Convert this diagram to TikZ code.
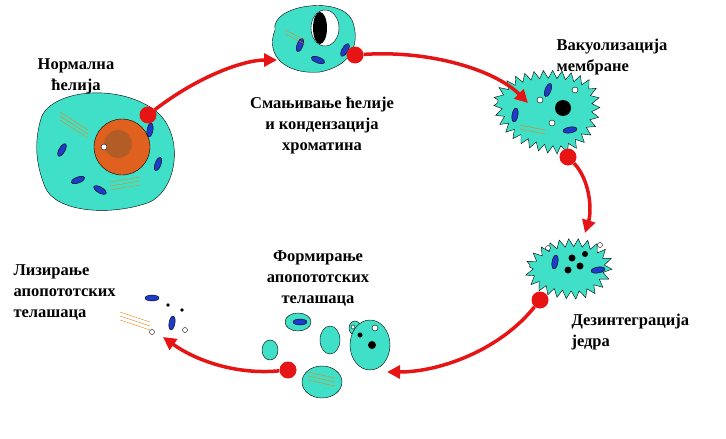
\documentclass[tikz,border=0pt]{standalone}
\usepackage{fontspec}
\setmainfont{Liberation Serif}
\usetikzlibrary{arrows.meta,shapes.geometric,decorations.pathmorphing}
\definecolor{cellc}{RGB}{64,224,200}
\definecolor{nuc}{RGB}{224,96,32}
\definecolor{mito}{RGB}{30,60,200}
\definecolor{arr}{RGB}{230,20,20}
\tikzset{
 lbl/.style={font=\bfseries\fontsize{16.5}{21}\selectfont, align=center},
 cellbody/.style={fill=cellc, draw=black, thin},
 spiky/.style={fill=cellc, draw=black, thin, decorate, decoration={zigzag, segment length=9pt, amplitude=4pt}},
 mt/.style={fill=mito, draw=black, ellipse, minimum width=14pt, minimum height=6pt, inner sep=0pt},
 er/.style={draw=orange!80!brown, thin},
 redarrow/.style={draw=arr, line width=3.5pt, -{Triangle[length=13pt,width=13pt]}},
 dot/.style={circle, fill=arr, minimum size=17pt, inner sep=0pt},
}
\begin{document}
\begin{tikzpicture}[x=1pt,y=-1pt]
\useasboundingbox (0,0) rectangle (726,439);
% cell 1
\begin{scope}[yshift=-12pt]
\draw[cellbody] (40,110) .. controls (45,80) and (110,70) .. (150,95) .. controls (185,115) and (180,175) .. (150,190) .. controls (110,205) and (55,200) .. (45,175) .. controls (35,150) and (35,130) .. (40,110) -- cycle;
\fill[nuc, draw=black] (122,135) circle (28);
\fill[brown!70!black, opacity=0.5] (118,132) circle (14);
\draw[fill=white] (104,135) circle (3);
\node[mt, rotate=60] at (62,138) {};
\node[mt, rotate=-30] at (100,178) {};
\node[mt, rotate=70] at (158,152) {};
\node[mt, rotate=20] at (78,168) {};
\node[mt, rotate=80] at (150,118) {};
\foreach \i in {0,4,8} {\draw[er] (60,{100+\i}) -- (88,{118+\i}); \draw[er] (110,{170+\i}) -- (140,{165+\i});}
\end{scope}
% cell 2
\draw[cellbody] (275,30) .. controls (270,5) and (340,-5) .. (352,20) .. controls (360,40) and (355,65) .. (320,72) .. controls (285,75) and (265,55) .. (275,30) -- cycle;
\fill[white, draw=black] (325,28) ellipse (14 and 18);
\fill[black] (320,28) ellipse (7 and 16);
\node[mt, rotate=70] at (300,45) {};
\node[mt, rotate=-20] at (318,60) {};
\node[mt, rotate=60] at (345,50) {};
\foreach \i in {0,4} {\draw[er] (285,{30+\i}) -- (305,{40+\i});}
% cell 3
\draw[spiky] (498,100) .. controls (500,75) and (560,65) .. (590,85) .. controls (605,110) and (590,145) .. (560,150) .. controls (530,150) and (495,130) .. (498,100) -- cycle;
\fill[black] (563,108) circle (8);
\draw[fill=white] (540,100) circle (3); \draw[fill=white] (575,90) circle (3); \draw[fill=white] (552,123) circle (3);
\node[mt, rotate=70] at (548,90) {};
\node[mt, rotate=10] at (570,130) {};
\node[mt, rotate=80] at (515,115) {};
\foreach \i in {0,4} {\draw[er] (520,{125+\i}) -- (545,{130+\i});}
% cell 4
\draw[spiky] (530,265) .. controls (540,240) and (590,235) .. (605,255) .. controls (615,270) and (600,295) .. (575,295) .. controls (550,295) and (525,285) .. (530,265) -- cycle;
\fill[black] (572,258) circle (3.5); \fill[black] (580,266) circle (3.5); \fill[black] (568,270) circle (3.5); \fill[black] (585,254) circle (3);
\node[mt, rotate=80] at (555,262) {};
\node[mt, rotate=10] at (598,270) {};
\draw[fill=white] (548,248) circle (2.5); \draw[fill=white] (600,245) circle (2.5);
% cell 5 fragments
\draw[cellbody] (298,322) ellipse (13 and 9);
\node[mt] at (300,322) {};
\draw[cellbody] (355,328) ellipse (6 and 7);
\draw[cellbody] (330,340) ellipse (10 and 14);
\draw[cellbody] (370,345) ellipse (20 and 25);
\fill[black] (372,345) circle (4); \fill[black] (360,335) circle (2.5);
\draw[fill=white] (375,328) circle (3);
\draw[cellbody] (322,382) ellipse (20 and 16);
\foreach \i in {0,4,8} {\draw[er] (308,{372+\i}) -- (335,{378+\i});}
\draw[cellbody] (270,350) ellipse (8 and 10);
\draw[fill=white] (353,327) circle (2);
% cell 6 bits
\node[mt] at (152,298) {};
\node[mt, rotate=80] at (172,323) {};
\fill[black] (168,305) circle (1.8); \fill[black] (182,310) circle (1.8);
\draw[fill=white] (152,332) circle (2.5); \draw[fill=white] (185,330) circle (2.5);
\foreach \i in {0,4,8} {\draw[er] (120,{312+\i}) -- (150,{322+\i});}
% labels
\node[lbl] (l1) at (76,76) {Нормална\\ћелија};
\node[lbl] (l2) at (322,126) {Смањивање ћелије\\и кондензација\\хроматина};
\node[lbl, align=left, anchor=west] (l3) at (553,57) {Вакуолизација\\мембране};
\node[lbl, align=left, anchor=west] (l4) at (568,332) {Дезинтеграција\\једра};
\node[lbl] (l5) at (318,279) {Формирање\\апопототских\\телашаца};
\node[lbl, align=left, anchor=west] (l6) at (10,293) {Лизирање\\апопототских\\телашаца};
% arrows
\node[dot] (d1) at (148,115) {}; \coordinate (e1) at (277,60);
\node[dot] (d2) at (355,55) {}; \coordinate (e2) at (528,103);
\node[dot] (d3) at (568,157) {}; \coordinate (e3) at (585,233);
\node[dot] (d4) at (540,300) {}; \coordinate (e4) at (387,372);
\node[dot] (d5) at (288,370) {}; \coordinate (e5) at (163,337);
\draw[redarrow] (d1) .. controls (200,75) and (245,60) .. (e1);
\draw[redarrow] (d2) .. controls (430,50) and (495,70) .. (e2);
\draw[redarrow] (d3) .. controls (590,180) and (592,210) .. (e3);
\draw[redarrow] (d4) .. controls (500,350) and (440,372) .. (e4);
\draw[redarrow] (d5) .. controls (235,375) and (195,360) .. (e5);
\end{tikzpicture}
\end{document}
